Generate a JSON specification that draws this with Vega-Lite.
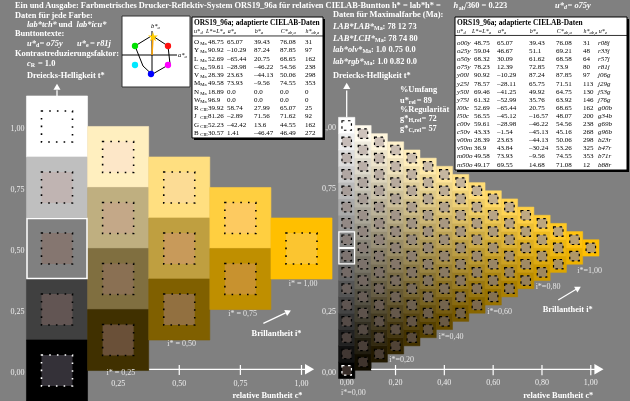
{
"$schema":"https://vega.github.io/schema/vega-lite/v6.json",
"width":630,"height":401,"padding":0,"autosize":"none",
"background":"#808080",
"config":{"view":{"stroke":null},"axis":{"disable":true},"text":{"font":"Liberation Serif","fontSize":8.4,"fontWeight":"bold","color":"#ffffff","align":"left","baseline":"middle"}},
"datasets":{
"coarse":[
{"c":0,"t":1,"rgb":"#ffffff","out":"#ffffff"},
{"c":0,"t":0.75,"rgb":"#bfbfbf","out":"#c0b4b2"},
{"c":0,"t":0.5,"rgb":"#808080","out":"#857670"},
{"c":0,"t":0.25,"rgb":"#404040","out":"#625553"},
{"c":0,"t":0,"rgb":"#000000","out":"#343138"},
{"c":0.25,"t":0.875,"rgb":"#ffefbf","out":"#fde7c8"},
{"c":0.25,"t":0.625,"rgb":"#bfaf80","out":"#c4a888"},
{"c":0.25,"t":0.375,"rgb":"#806f40","out":"#8a7053"},
{"c":0.25,"t":0.125,"rgb":"#403000","out":"#6a5038"},
{"c":0.5,"t":0.75,"rgb":"#ffdf80","out":"#fcdc95"},
{"c":0.5,"t":0.5,"rgb":"#bf9f40","out":"#c89a5a"},
{"c":0.5,"t":0.25,"rgb":"#806000","out":"#927040"},
{"c":0.75,"t":0.625,"rgb":"#ffcf40","out":"#fdca60"},
{"c":0.75,"t":0.375,"rgb":"#bf8f00","out":"#c8922f"},
{"c":1,"t":0.5,"rgb":"#ffbf00","out":"#fbc530"}
],
"fine":[
{"c":0,"t":0,"rgb":"#000000"},{"c":0,"t":2,"rgb":"#111111"},{"c":0,"t":4,"rgb":"#222222"},{"c":0,"t":6,"rgb":"#333333"},{"c":0,"t":8,"rgb":"#444444"},{"c":0,"t":10,"rgb":"#555555"},{"c":0,"t":12,"rgb":"#666666"},{"c":0,"t":14,"rgb":"#777777"},{"c":0,"t":16,"rgb":"#888888"},{"c":0,"t":18,"rgb":"#999999"},{"c":0,"t":20,"rgb":"#aaaaaa"},{"c":0,"t":22,"rgb":"#bbbbbb"},{"c":0,"t":24,"rgb":"#cccccc"},{"c":0,"t":26,"rgb":"#dddddd"},{"c":0,"t":28,"rgb":"#eeeeee"},{"c":0,"t":30,"rgb":"#ffffff"},
{"c":1,"t":1,"rgb":"#110d00"},{"c":1,"t":3,"rgb":"#221e11"},{"c":1,"t":5,"rgb":"#332f22"},{"c":1,"t":7,"rgb":"#444033"},{"c":1,"t":9,"rgb":"#555144"},{"c":1,"t":11,"rgb":"#666255"},{"c":1,"t":13,"rgb":"#777366"},{"c":1,"t":15,"rgb":"#888477"},{"c":1,"t":17,"rgb":"#999588"},{"c":1,"t":19,"rgb":"#aaa699"},{"c":1,"t":21,"rgb":"#bbb7aa"},{"c":1,"t":23,"rgb":"#ccc8bb"},{"c":1,"t":25,"rgb":"#ddd9cc"},{"c":1,"t":27,"rgb":"#eeeadd"},{"c":1,"t":29,"rgb":"#fffbee"},
{"c":2,"t":2,"rgb":"#221900"},{"c":2,"t":4,"rgb":"#332a11"},{"c":2,"t":6,"rgb":"#443b22"},{"c":2,"t":8,"rgb":"#554c33"},{"c":2,"t":10,"rgb":"#665d44"},{"c":2,"t":12,"rgb":"#776e55"},{"c":2,"t":14,"rgb":"#887f66"},{"c":2,"t":16,"rgb":"#999077"},{"c":2,"t":18,"rgb":"#aaa188"},{"c":2,"t":20,"rgb":"#bbb299"},{"c":2,"t":22,"rgb":"#ccc3aa"},{"c":2,"t":24,"rgb":"#ddd4bb"},{"c":2,"t":26,"rgb":"#eee5cc"},{"c":2,"t":28,"rgb":"#fff6dd"},
{"c":3,"t":3,"rgb":"#332600"},{"c":3,"t":5,"rgb":"#443711"},{"c":3,"t":7,"rgb":"#554822"},{"c":3,"t":9,"rgb":"#665933"},{"c":3,"t":11,"rgb":"#776a44"},{"c":3,"t":13,"rgb":"#887b55"},{"c":3,"t":15,"rgb":"#998c66"},{"c":3,"t":17,"rgb":"#aa9d77"},{"c":3,"t":19,"rgb":"#bbae88"},{"c":3,"t":21,"rgb":"#ccbf99"},{"c":3,"t":23,"rgb":"#ddd0aa"},{"c":3,"t":25,"rgb":"#eee1bb"},{"c":3,"t":27,"rgb":"#fff2cc"},
{"c":4,"t":4,"rgb":"#443300"},{"c":4,"t":6,"rgb":"#554411"},{"c":4,"t":8,"rgb":"#665522"},{"c":4,"t":10,"rgb":"#776633"},{"c":4,"t":12,"rgb":"#887744"},{"c":4,"t":14,"rgb":"#998855"},{"c":4,"t":16,"rgb":"#aa9966"},{"c":4,"t":18,"rgb":"#bbaa77"},{"c":4,"t":20,"rgb":"#ccbb88"},{"c":4,"t":22,"rgb":"#ddcc99"},{"c":4,"t":24,"rgb":"#eeddaa"},{"c":4,"t":26,"rgb":"#ffeebb"},
{"c":5,"t":5,"rgb":"#554000"},{"c":5,"t":7,"rgb":"#665111"},{"c":5,"t":9,"rgb":"#776222"},{"c":5,"t":11,"rgb":"#887333"},{"c":5,"t":13,"rgb":"#998444"},{"c":5,"t":15,"rgb":"#aa9555"},{"c":5,"t":17,"rgb":"#bba666"},{"c":5,"t":19,"rgb":"#ccb777"},{"c":5,"t":21,"rgb":"#ddc888"},{"c":5,"t":23,"rgb":"#eed999"},{"c":5,"t":25,"rgb":"#ffeaaa"},
{"c":6,"t":6,"rgb":"#664c00"},{"c":6,"t":8,"rgb":"#775d11"},{"c":6,"t":10,"rgb":"#886e22"},{"c":6,"t":12,"rgb":"#997f33"},{"c":6,"t":14,"rgb":"#aa9044"},{"c":6,"t":16,"rgb":"#bba155"},{"c":6,"t":18,"rgb":"#ccb266"},{"c":6,"t":20,"rgb":"#ddc377"},{"c":6,"t":22,"rgb":"#eed488"},{"c":6,"t":24,"rgb":"#ffe599"},
{"c":7,"t":7,"rgb":"#775900"},{"c":7,"t":9,"rgb":"#886a11"},{"c":7,"t":11,"rgb":"#997b22"},{"c":7,"t":13,"rgb":"#aa8c33"},{"c":7,"t":15,"rgb":"#bb9d44"},{"c":7,"t":17,"rgb":"#ccae55"},{"c":7,"t":19,"rgb":"#ddbf66"},{"c":7,"t":21,"rgb":"#eed077"},{"c":7,"t":23,"rgb":"#ffe188"},
{"c":8,"t":8,"rgb":"#886600"},{"c":8,"t":10,"rgb":"#997711"},{"c":8,"t":12,"rgb":"#aa8822"},{"c":8,"t":14,"rgb":"#bb9933"},{"c":8,"t":16,"rgb":"#ccaa44"},{"c":8,"t":18,"rgb":"#ddbb55"},{"c":8,"t":20,"rgb":"#eecc66"},{"c":8,"t":22,"rgb":"#ffdd77"},
{"c":9,"t":9,"rgb":"#997300"},{"c":9,"t":11,"rgb":"#aa8411"},{"c":9,"t":13,"rgb":"#bb9522"},{"c":9,"t":15,"rgb":"#cca633"},{"c":9,"t":17,"rgb":"#ddb744"},{"c":9,"t":19,"rgb":"#eec855"},{"c":9,"t":21,"rgb":"#ffd966"},
{"c":10,"t":10,"rgb":"#aa7f00"},{"c":10,"t":12,"rgb":"#bb9011"},{"c":10,"t":14,"rgb":"#cca122"},{"c":10,"t":16,"rgb":"#ddb233"},{"c":10,"t":18,"rgb":"#eec344"},{"c":10,"t":20,"rgb":"#ffd455"},
{"c":11,"t":11,"rgb":"#bb8c00"},{"c":11,"t":13,"rgb":"#cc9d11"},{"c":11,"t":15,"rgb":"#ddae22"},{"c":11,"t":17,"rgb":"#eebf33"},{"c":11,"t":19,"rgb":"#ffd044"},
{"c":12,"t":12,"rgb":"#cc9900"},{"c":12,"t":14,"rgb":"#ddaa11"},{"c":12,"t":16,"rgb":"#eebb22"},{"c":12,"t":18,"rgb":"#ffcc33"},
{"c":13,"t":13,"rgb":"#dda600"},{"c":13,"t":15,"rgb":"#eeb711"},{"c":13,"t":17,"rgb":"#ffc822"},
{"c":14,"t":14,"rgb":"#eeb200"},{"c":14,"t":16,"rgb":"#ffc311"},
{"c":15,"t":15,"rgb":"#ffbf00"}
],
"tab1":[
{"n":"O","s":"Ma","L":"48.75","a":"65.07","b":"39.43","C":"76.08","h":"31"},
{"n":"Y","s":"Ma","L":"90.92","a":"–10.29","b":"87.24","C":"87.85","h":"97"},
{"n":"L","s":"Ma","L":"52.69","a":"–65.44","b":"20.75","C":"68.65","h":"162"},
{"n":"C","s":"Ma","L":"59.61","a":"–28.98","b":"–46.22","C":"54.56","h":"238"},
{"n":"V","s":"Ma","L":"28.39","a":"23.63","b":"–44.13","C":"50.06","h":"298"},
{"n":"M","s":"Ma","L":"49.58","a":"73.93","b":"–9.56","C":"74.55","h":"353"},
{"n":"N","s":"Ma","L":"18.89","a":"0.0","b":"0.0","C":"0.0","h":"0"},
{"n":"W","s":"Ma","L":"96.9","a":"0.0","b":"0.0","C":"0.0","h":"0"},
{"n":"R","s":"CIE","L":"39.92","a":"58.74","b":"27.99","C":"65.07","h":"25"},
{"n":"J","s":"CIE","L":"81.26","a":"–2.89","b":"71.56","C":"71.62","h":"92"},
{"n":"G","s":"CIE","L":"52.23","a":"–42.42","b":"13.6","C":"44.55","h":"162"},
{"n":"B","s":"CIE","L":"30.57","a":"1.41","b":"–46.47","C":"46.49","h":"272"}
],
"tab2":[
{"n":"o00y","L":"48.75","a":"65.07","b":"39.43","C":"76.08","h":"31","e":"r08j"},
{"n":"o25y","L":"59.04","a":"46.67","b":"51.1","C":"69.21","h":"48","e":"r33j"},
{"n":"o50y","L":"68.32","a":"30.09","b":"61.62","C":"68.58","h":"64","e":"r57j"},
{"n":"o75y","L":"78.23","a":"12.39","b":"72.85","C":"73.9","h":"80","e":"r81j"},
{"n":"y00l","L":"90.92","a":"–10.29","b":"87.24","C":"87.85","h":"97","e":"j06g"},
{"n":"y25l","L":"78.57","a":"–28.11","b":"65.75","C":"71.51","h":"113","e":"j29g"},
{"n":"y50l","L":"69.46","a":"–41.25","b":"49.92","C":"64.75","h":"130","e":"j53g"},
{"n":"y75l","L":"61.32","a":"–52.99","b":"35.76","C":"63.92","h":"146","e":"j76g"},
{"n":"l00c","L":"52.69","a":"–65.44","b":"20.75","C":"68.65","h":"162","e":"g00b"},
{"n":"l50c","L":"56.55","a":"–45.12","b":"–16.57","C":"48.07","h":"200","e":"g34b"},
{"n":"c00v","L":"59.61","a":"–28.98","b":"–46.22","C":"54.56","h":"238","e":"g69b"},
{"n":"c50v","L":"43.33","a":"–1.54","b":"–45.13","C":"45.16","h":"268","e":"g96b"},
{"n":"v00m","L":"28.39","a":"23.63","b":"–44.13","C":"50.06","h":"298","e":"b23r"},
{"n":"v50m","L":"36.9","a":"43.84","b":"–30.24","C":"53.26","h":"325","e":"b47r"},
{"n":"m00o","L":"49.58","a":"73.93","b":"–9.56","C":"74.55","h":"353","e":"b71r"},
{"n":"m50o","L":"49.17","a":"69.55","b":"14.68","C":"71.08","h":"12","e":"b88r"}
]
},
"resolve":{"scale":{"x":"independent","y":"independent"}},
"layer":[
{
"data":{"name":"fine"},
"layer":[
{"mark":{"type":"square","size":268,"opacity":1,"strokeWidth":0.5},"encoding":{"x":{"field":"c","type":"quantitative","scale":{"domain":[0,15],"range":[346.7,590.8],"nice":false,"zero":false},"axis":null},"y":{"field":"t","type":"quantitative","scale":{"domain":[0,30],"range":[370.3,125.5],"nice":false,"zero":false},"axis":null},"fill":{"field":"rgb","type":"nominal","scale":null},"stroke":{"field":"rgb","type":"nominal","scale":null}}},
{"mark":{"type":"square","size":90,"opacity":0.6,"fill":"#808080","blend":"saturation"},"encoding":{"x":{"field":"c","type":"quantitative"},"y":{"field":"t","type":"quantitative"}}},
{"transform":[{"filter":"datum.t < 30"}],"mark":{"type":"square","size":90,"opacity":0.4,"fill":"#8a7066"},"encoding":{"x":{"field":"c","type":"quantitative"},"y":{"field":"t","type":"quantitative"}}},
{"mark":{"type":"square","size":90,"opacity":1,"filled":false,"strokeWidth":1.2,"strokeDash":[2.5,3.5]},"encoding":{"x":{"field":"c","type":"quantitative"},"y":{"field":"t","type":"quantitative"},"stroke":{"condition":{"test":"datum.t == 0","value":"#ffffff"},"value":"#000000"}}},
{"transform":[{"filter":"datum.c == 0 && (datum.t == 14 || datum.t == 16)"}],"mark":{"type":"square","size":245,"filled":false,"opacity":1,"stroke":"#ffffff","strokeWidth":1.3},"encoding":{"x":{"field":"c","type":"quantitative"},"y":{"field":"t","type":"quantitative"}}},
{"data":{"values":[{}]},"mark":{"type":"rule","color":"#ffffff","strokeWidth":1.2},"encoding":{"x":{"datum":1.5},"x2":{"datum":15.3},"y":{"datum":0.12}}},
{"data":{"values":[{}]},"mark":{"type":"point","shape":"triangle-right","filled":true,"size":110,"opacity":1,"color":"#ffffff"},"encoding":{"x":{"datum":15.5},"y":{"datum":0.12}}},
{"data":{"values":[{"c":3},{"c":6},{"c":9},{"c":12},{"c":15}]},"mark":{"type":"rule","color":"#ffffff","strokeWidth":1.2},"encoding":{"x":{"field":"c","type":"quantitative"},"y":{"datum":0.65},"y2":{"datum":-0.6}}},
{"data":{"values":[{"c":0,"lab":"0,00"},{"c":3,"lab":"0,20"},{"c":6,"lab":"0,40"},{"c":9,"lab":"0,60"},{"c":12,"lab":"0,80"},{"c":15,"lab":"1,00"}]},"mark":{"type":"text","fontSize":8,"fontWeight":"normal","color":"#ececec","align":"center"},"encoding":{"x":{"field":"c","type":"quantitative"},"y":{"datum":-1.56},"text":{"field":"lab"}}},
{"data":{"values":[{"t":30,"lab":"1,00"},{"t":22.5,"lab":"0,75"},{"t":7.5,"lab":"0,25"},{"t":0,"lab":"0,00"}]},"mark":{"type":"text","fontSize":8,"fontWeight":"normal","color":"#ececec","align":"center","dy":2.5},"encoding":{"x":{"datum":-1.09},"y":{"field":"t","type":"quantitative"},"text":{"field":"lab"}}},
{"data":{"values":[{}]},"mark":{"type":"text","text":"i*=0,00","fontSize":8,"fontWeight":"normal","color":"#e4e4e4","align":"center"},"encoding":{"x":{"datum":0.41},"y":{"datum":-2.75}}},
{"data":{"values":[{}]},"mark":{"type":"text","text":"i*=0,20","fontSize":8,"fontWeight":"normal","color":"#e4e4e4","align":"center"},"encoding":{"x":{"datum":3.38},"y":{"datum":1.26}}},
{"data":{"values":[{}]},"mark":{"type":"text","text":"i*=0,40","fontSize":8,"fontWeight":"normal","color":"#e4e4e4","align":"center"},"encoding":{"x":{"datum":6.41},"y":{"datum":4.08}}},
{"data":{"values":[{}]},"mark":{"type":"text","text":"i*=0,60","fontSize":8,"fontWeight":"normal","color":"#e4e4e4","align":"center"},"encoding":{"x":{"datum":9.4},"y":{"datum":7.18}}},
{"data":{"values":[{}]},"mark":{"type":"text","text":"i*=0,80","fontSize":8,"fontWeight":"normal","color":"#e4e4e4","align":"center"},"encoding":{"x":{"datum":12.37},"y":{"datum":10.17}}},
{"data":{"values":[{}]},"mark":{"type":"text","text":"i*=1,00","fontSize":8,"fontWeight":"normal","color":"#e4e4e4","align":"center"},"encoding":{"x":{"datum":14.93},"y":{"datum":12.21}}},
{"data":{"values":[{}]},"mark":{"type":"text","text":"Brillantheit i*","align":"center"},"encoding":{"x":{"datum":13.58},"y":{"datum":7.47}}},
{"data":{"values":[{}]},"mark":{"type":"rule","color":"#ffffff","strokeWidth":1.2},"encoding":{"x":{"datum":13.0},"y":{"datum":8.62},"x2":{"datum":14.1},"y2":{"datum":9.92}}},
{"data":{"values":[{}]},"mark":{"type":"point","shape":"triangle-right","filled":true,"size":45,"opacity":1,"color":"#ffffff","angle":-30},"encoding":{"x":{"datum":14.23},"y":{"datum":10.06}}},
{"data":{"values":[{}]},"mark":{"type":"text","text":"relative Buntheit c*","align":"center"},"encoding":{"x":{"datum":13.0},"y":{"datum":-3.03}}},
{"data":{"values":[{}]},"mark":{"type":"rule","color":"#ffffff","strokeWidth":1.3},"encoding":{"x":{"datum":0},"y":{"datum":31},"y2":{"datum":34.3}}},
{"data":{"values":[{}]},"mark":{"type":"point","shape":"triangle-up","filled":true,"size":50,"opacity":1,"color":"#ffffff"},"encoding":{"x":{"datum":0},"y":{"datum":34.85}}},
{"data":{"values":[{}]},"mark":{"type":"text","text":"Daten für Maximalfarbe (Ma):"},"encoding":{"x":{"datum":-0.842},"y":{"datum":43.63}}},
{"data":{"values":[{}]},"mark":{"type":"text","text":"LAB*LAB*","fontStyle":"italic"},"encoding":{"x":{"datum":-0.842},"y":{"datum":42.19}}},
{"data":{"values":[{}]},"mark":{"type":"text","text":"Ma","fontSize":6},"encoding":{"x":{"datum":1.68},"y":{"datum":41.94}}},
{"data":{"values":[{}]},"mark":{"type":"text","text":": 78  12  73"},"encoding":{"x":{"datum":2.2},"y":{"datum":42.19}}},
{"data":{"values":[{}]},"mark":{"type":"text","text":"LAB*LCH*","fontStyle":"italic"},"encoding":{"x":{"datum":-0.842},"y":{"datum":40.76}}},
{"data":{"values":[{}]},"mark":{"type":"text","text":"Ma","fontSize":6},"encoding":{"x":{"datum":1.74},"y":{"datum":40.51}}},
{"data":{"values":[{}]},"mark":{"type":"text","text":": 78  74  80"},"encoding":{"x":{"datum":2.26},"y":{"datum":40.76}}},
{"data":{"values":[{}]},"mark":{"type":"text","text":"lab*olv*","fontStyle":"italic"},"encoding":{"x":{"datum":-0.842},"y":{"datum":39.34}}},
{"data":{"values":[{}]},"mark":{"type":"text","text":"Ma","fontSize":6},"encoding":{"x":{"datum":0.965},"y":{"datum":39.09}}},
{"data":{"values":[{}]},"mark":{"type":"text","text":": 1.0  0.75  0.0"},"encoding":{"x":{"datum":1.49},"y":{"datum":39.34}}},
{"data":{"values":[{}]},"mark":{"type":"text","text":"lab*rgb*","fontStyle":"italic"},"encoding":{"x":{"datum":-0.842},"y":{"datum":37.9}}},
{"data":{"values":[{}]},"mark":{"type":"text","text":"Ma","fontSize":6},"encoding":{"x":{"datum":1.05},"y":{"datum":37.65}}},
{"data":{"values":[{}]},"mark":{"type":"text","text":": 1.0  0.82  0.0"},"encoding":{"x":{"datum":1.57},"y":{"datum":37.9}}},
{"data":{"values":[{}]},"mark":{"type":"text","text":"Dreiecks-Helligkeit t*"},"encoding":{"x":{"datum":-0.842},"y":{"datum":36.19}}},
{"data":{"values":[{}]},"mark":{"type":"text","text":"%Umfang"},"encoding":{"x":{"datum":3.275},"y":{"datum":34.44}}},
{"data":{"values":[{}]},"mark":{"type":"text","text":"u*"},"encoding":{"x":{"datum":3.275},"y":{"datum":33.12}}},
{"data":{"values":[{}]},"mark":{"type":"text","text":"rel","fontSize":6},"encoding":{"x":{"datum":3.82},"y":{"datum":32.87}}},
{"data":{"values":[{}]},"mark":{"type":"text","text":"= 89"},"encoding":{"x":{"datum":4.3},"y":{"datum":33.12}}},
{"data":{"values":[{}]},"mark":{"type":"text","text":"%Regularität"},"encoding":{"x":{"datum":3.275},"y":{"datum":31.99}}},
{"data":{"values":[{}]},"mark":{"type":"text","text":"g*"},"encoding":{"x":{"datum":3.275},"y":{"datum":30.88}}},
{"data":{"values":[{}]},"mark":{"type":"text","text":"H,rel","fontSize":6},"encoding":{"x":{"datum":3.79},"y":{"datum":30.63}}},
{"data":{"values":[{}]},"mark":{"type":"text","text":"= 72"},"encoding":{"x":{"datum":4.6},"y":{"datum":30.88}}},
{"data":{"values":[{}]},"mark":{"type":"text","text":"g*"},"encoding":{"x":{"datum":3.275},"y":{"datum":29.66}}},
{"data":{"values":[{}]},"mark":{"type":"text","text":"C,rel","fontSize":6},"encoding":{"x":{"datum":3.79},"y":{"datum":29.41}}},
{"data":{"values":[{}]},"mark":{"type":"text","text":"= 57"},"encoding":{"x":{"datum":4.6},"y":{"datum":29.66}}},
{"data":{"values":[{}]},"mark":{"type":"text","text":"u*","fontStyle":"italic"},"encoding":{"x":{"datum":12.8},"y":{"datum":44.77}}},
{"data":{"values":[{}]},"mark":{"type":"text","text":"d","fontSize":6,"fontStyle":"italic"},"encoding":{"x":{"datum":13.36},"y":{"datum":44.52}}},
{"data":{"values":[{}]},"mark":{"type":"text","text":"= o75y","fontStyle":"italic"},"encoding":{"x":{"datum":13.57},"y":{"datum":44.77}}}
]
},
{
"data":{"name":"coarse"},
"layer":[
{"mark":{"type":"square","size":3730,"opacity":1,"strokeWidth":0.6},"encoding":{"x":{"field":"c","type":"quantitative","scale":{"domain":[0,1],"range":[57,301.5],"nice":false,"zero":false},"axis":null},"y":{"field":"t","type":"quantitative","scale":{"domain":[0,1],"range":[370.5,126.5],"nice":false,"zero":false},"axis":null},"fill":{"field":"rgb","type":"nominal","scale":null},"stroke":{"field":"rgb","type":"nominal","scale":null}}},
{"mark":{"type":"square","size":961,"opacity":1,"strokeWidth":1.6,"strokeDash":[1.6,6.1]},"encoding":{"x":{"field":"c","type":"quantitative"},"y":{"field":"t","type":"quantitative"},"fill":{"field":"out","type":"nominal","scale":null},"stroke":{"condition":{"test":"datum.c == 0 && datum.t == 0","value":"#ffffff"},"value":"#000000"}}},
{"transform":[{"filter":"datum.c == 0 && datum.t == 0.5"}],"mark":{"type":"square","size":3600,"filled":false,"opacity":1,"stroke":"#ffffff","strokeWidth":1.5},"encoding":{"x":{"field":"c","type":"quantitative"},"y":{"field":"t","type":"quantitative"}}},
{"data":{"values":[{}]},"mark":{"type":"text","text":"Ein und Ausgabe: Farbmetrisches Drucker-Reflektiv-System ORS19_96a für relativen CIELAB-Buntton h* = lab*h* ="},"encoding":{"x":{"datum":-0.1718},"y":{"datum":1.498}}},
{"data":{"values":[{}]},"mark":{"type":"text","text":"h","fontStyle":"italic"},"encoding":{"x":{"datum":1.622},"y":{"datum":1.498}}},
{"data":{"values":[{}]},"mark":{"type":"text","text":"ab","fontSize":6},"encoding":{"x":{"datum":1.643},"y":{"datum":1.487}}},
{"data":{"values":[{}]},"mark":{"type":"text","text":"/360 = 0.223"},"encoding":{"x":{"datum":1.667},"y":{"datum":1.498}}},
{"data":{"values":[{}]},"mark":{"type":"text","text":"Daten für jede Farbe:"},"encoding":{"x":{"datum":-0.172},"y":{"datum":1.457}}},
{"data":{"values":[{}]},"mark":{"type":"text","text":"lab*tch*","fontStyle":"italic"},"encoding":{"x":{"datum":-0.1227},"y":{"datum":1.42}}},
{"data":{"values":[{}]},"mark":{"type":"text","text":"und"},"encoding":{"x":{"datum":0.006},"y":{"datum":1.42}}},
{"data":{"values":[{}]},"mark":{"type":"text","text":"lab*icu*","fontStyle":"italic"},"encoding":{"x":{"datum":0.08},"y":{"datum":1.42}}},
{"data":{"values":[{}]},"mark":{"type":"text","text":"Bunttontexte:"},"encoding":{"x":{"datum":-0.172},"y":{"datum":1.383}}},
{"data":{"values":[{}]},"mark":{"type":"text","text":"u*","fontStyle":"italic"},"encoding":{"x":{"datum":-0.1227},"y":{"datum":1.342}}},
{"data":{"values":[{}]},"mark":{"type":"text","text":"d","fontSize":6},"encoding":{"x":{"datum":-0.0863},"y":{"datum":1.334}}},
{"data":{"values":[{}]},"mark":{"type":"text","text":"= o75y","fontStyle":"italic"},"encoding":{"x":{"datum":-0.0716},"y":{"datum":1.342}}},
{"data":{"values":[{}]},"mark":{"type":"text","text":"u*","fontStyle":"italic"},"encoding":{"x":{"datum":0.0818},"y":{"datum":1.342}}},
{"data":{"values":[{}]},"mark":{"type":"text","text":"e","fontSize":6},"encoding":{"x":{"datum":0.1186},"y":{"datum":1.334}}},
{"data":{"values":[{}]},"mark":{"type":"text","text":"= r81j","fontStyle":"italic"},"encoding":{"x":{"datum":0.135},"y":{"datum":1.342}}},
{"data":{"values":[{}]},"mark":{"type":"text","text":"Kontrastreduzierungsfaktor:"},"encoding":{"x":{"datum":-0.172},"y":{"datum":1.301}}},
{"data":{"values":[{}]},"mark":{"type":"text","text":"c","fontStyle":"italic"},"encoding":{"x":{"datum":-0.1227},"y":{"datum":1.26}}},
{"data":{"values":[{}]},"mark":{"type":"text","text":"R","fontSize":6},"encoding":{"x":{"datum":-0.1076},"y":{"datum":1.252}}},
{"data":{"values":[{}]},"mark":{"type":"text","text":"= 1.0"},"encoding":{"x":{"datum":-0.0777},"y":{"datum":1.26}}},
{"data":{"values":[{}]},"mark":{"type":"text","text":"Dreiecks-Helligkeit t*"},"encoding":{"x":{"datum":-0.1227},"y":{"datum":1.211}}},
{"data":{"values":[{}]},"mark":{"type":"rule","color":"#ffffff","strokeWidth":1.3},"encoding":{"x":{"datum":0},"y":{"datum":1.125},"y2":{"datum":1.149}}},
{"data":{"values":[{}]},"mark":{"type":"point","shape":"triangle-up","filled":true,"size":50,"opacity":1,"color":"#ffffff"},"encoding":{"x":{"datum":0},"y":{"datum":1.163}}},
{"data":{"values":[{"t":1,"lab":"1,00"},{"t":0.75,"lab":"0,75"},{"t":0.5,"lab":"0,50"},{"t":0.25,"lab":"0,25"},{"t":0,"lab":"0,00"}]},"mark":{"type":"text","fontSize":8,"fontWeight":"normal","color":"#ececec","align":"center","dy":2},"encoding":{"x":{"datum":-0.1616},"y":{"field":"t","type":"quantitative"},"text":{"field":"lab"}}},
{"data":{"values":[{}]},"mark":{"type":"rule","color":"#ffffff","strokeWidth":1.2},"encoding":{"x":{"datum":0.377},"x2":{"datum":1.02},"y":{"datum":0.005}}},
{"data":{"values":[{}]},"mark":{"type":"point","shape":"triangle-right","filled":true,"size":110,"opacity":1,"color":"#ffffff"},"encoding":{"x":{"datum":1.033},"y":{"datum":0.005}}},
{"data":{"values":[{"c":0.5},{"c":0.75},{"c":1}]},"mark":{"type":"rule","color":"#ffffff","strokeWidth":1.2},"encoding":{"x":{"field":"c","type":"quantitative"},"y":{"datum":0.0225},"y2":{"datum":-0.018}}},
{"data":{"values":[{"c":0.25,"lab":"0,25"},{"c":0.5,"lab":"0,50"},{"c":0.75,"lab":"0,75"},{"c":1,"lab":"1,00"}]},"mark":{"type":"text","fontSize":8,"fontWeight":"normal","color":"#ececec","align":"center"},"encoding":{"x":{"field":"c","type":"quantitative"},"y":{"datum":-0.056},"text":{"field":"lab"}}},
{"data":{"values":[{}]},"mark":{"type":"text","text":"i* = 0,25","fontSize":8,"fontWeight":"normal","color":"#e4e4e4","align":"center"},"encoding":{"x":{"datum":0.261},"y":{"datum":-0.01}}},
{"data":{"values":[{}]},"mark":{"type":"text","text":"i* = 0,50","fontSize":8,"fontWeight":"normal","color":"#e4e4e4","align":"center"},"encoding":{"x":{"datum":0.51},"y":{"datum":0.107}}},
{"data":{"values":[{}]},"mark":{"type":"text","text":"i* = 0,75","fontSize":8,"fontWeight":"normal","color":"#e4e4e4","align":"center"},"encoding":{"x":{"datum":0.759},"y":{"datum":0.23}}},
{"data":{"values":[{}]},"mark":{"type":"text","text":"i* = 1,00","fontSize":8,"fontWeight":"normal","color":"#e4e4e4","align":"center"},"encoding":{"x":{"datum":1.007},"y":{"datum":0.354}}},
{"data":{"values":[{}]},"mark":{"type":"text","text":"Brillantheit i*","align":"center"},"encoding":{"x":{"datum":0.898},"y":{"datum":0.155}}},
{"data":{"values":[{}]},"mark":{"type":"rule","color":"#ffffff","strokeWidth":1.2},"encoding":{"x":{"datum":0.844},"y":{"datum":0.193},"x2":{"datum":0.935},"y2":{"datum":0.236}}},
{"data":{"values":[{}]},"mark":{"type":"point","shape":"triangle-right","filled":true,"size":45,"opacity":1,"color":"#ffffff","angle":-25},"encoding":{"x":{"datum":0.946},"y":{"datum":0.241}}},
{"data":{"values":[{}]},"mark":{"type":"text","text":"relative Buntheit c*","align":"center"},"encoding":{"x":{"datum":0.861},"y":{"datum":-0.1}}}
]
},
{
"data":{"name":"tab1"},
"transform":[{"window":[{"op":"row_number","as":"r"}]}],
"layer":[
{"data":{"values":[{}]},"mark":{"type":"rect","fill":"#000000"},"encoding":{"x":{"datum":0,"scale":{"domain":[-1,0,1,2,3,4,5,6],"range":[192,194,208,227,254,280,305,323],"nice":false,"zero":false},"axis":null},"x2":{"datum":6.11},"y":{"datum":-1.78,"scale":{"domain":[1,12],"range":[42,133],"nice":false,"zero":false},"axis":null},"y2":{"datum":12.85}}},
{"data":{"values":[{}]},"mark":{"type":"rect","fill":"#ffffff","stroke":"#000000","strokeWidth":1},"encoding":{"x":{"datum":-1},"x2":{"datum":6},"y":{"datum":-2.02},"y2":{"datum":12.6}}},
{"data":{"values":[{}]},"mark":{"type":"text","text":"ORS19_96a; adaptierte CIELAB-Daten","fontSize":7.4,"color":"#000000"},"encoding":{"x":{"datum":0},"y":{"datum":-1.3}}},
{"data":{"values":[{}]},"mark":{"type":"rule","color":"#000000","strokeWidth":0.8},"encoding":{"x":{"datum":-1},"x2":{"datum":6},"y":{"datum":0.27}}},
{"data":{"values":[{}]},"mark":{"type":"text","text":"u*","fontSize":6,"fontWeight":"normal","fontStyle":"italic","color":"#000000"},"encoding":{"x":{"datum":0},"y":{"datum":-0.27}}},
{"data":{"values":[{}]},"mark":{"type":"text","text":"d","fontSize":4.5,"fontWeight":"normal","fontStyle":"italic","color":"#000000"},"encoding":{"x":{"datum":0.46},"y":{"datum":-0.05}}},
{"data":{"values":[{}]},"mark":{"type":"text","text":"L*=L*","fontSize":6,"fontWeight":"normal","fontStyle":"italic","color":"#000000"},"encoding":{"x":{"datum":0.85},"y":{"datum":-0.27}}},
{"data":{"values":[{}]},"mark":{"type":"text","text":"a","fontSize":4.5,"fontWeight":"normal","fontStyle":"italic","color":"#000000"},"encoding":{"x":{"datum":1.77},"y":{"datum":-0.05}}},
{"data":{"values":[{}]},"mark":{"type":"text","text":"a*","fontSize":6,"fontWeight":"normal","fontStyle":"italic","color":"#000000"},"encoding":{"x":{"datum":2.03},"y":{"datum":-0.27}}},
{"data":{"values":[{}]},"mark":{"type":"text","text":"a","fontSize":4.5,"fontWeight":"normal","fontStyle":"italic","color":"#000000"},"encoding":{"x":{"datum":2.25},"y":{"datum":-0.05}}},
{"data":{"values":[{}]},"mark":{"type":"text","text":"b*","fontSize":6,"fontWeight":"normal","fontStyle":"italic","color":"#000000"},"encoding":{"x":{"datum":3.03},"y":{"datum":-0.27}}},
{"data":{"values":[{}]},"mark":{"type":"text","text":"a","fontSize":4.5,"fontWeight":"normal","fontStyle":"italic","color":"#000000"},"encoding":{"x":{"datum":3.26},"y":{"datum":-0.05}}},
{"data":{"values":[{}]},"mark":{"type":"text","text":"C*","fontSize":6,"fontWeight":"normal","fontStyle":"italic","color":"#000000"},"encoding":{"x":{"datum":4.03},"y":{"datum":-0.27}}},
{"data":{"values":[{}]},"mark":{"type":"text","text":"ab,a","fontSize":4.5,"fontWeight":"normal","fontStyle":"italic","color":"#000000"},"encoding":{"x":{"datum":4.31},"y":{"datum":-0.05}}},
{"data":{"values":[{}]},"mark":{"type":"text","text":"h*","fontSize":6,"fontWeight":"normal","fontStyle":"italic","color":"#000000"},"encoding":{"x":{"datum":5.03},"y":{"datum":-0.27}}},
{"data":{"values":[{}]},"mark":{"type":"text","text":"ab,a","fontSize":4.5,"fontWeight":"normal","fontStyle":"italic","color":"#000000"},"encoding":{"x":{"datum":5.36},"y":{"datum":-0.05}}},
{"mark":{"type":"text","fontSize":7,"fontWeight":"normal","color":"#000000"},"encoding":{"x":{"datum":0},"y":{"field":"r","type":"quantitative"},"text":{"field":"n"}}},
{"mark":{"type":"text","fontSize":4.8,"fontWeight":"normal","color":"#000000","dy":2},"encoding":{"x":{"datum":0.45},"y":{"field":"r","type":"quantitative"},"text":{"field":"s"}}},
{"mark":{"type":"text","fontSize":7,"fontWeight":"normal","color":"#000000"},"encoding":{"x":{"datum":1},"y":{"field":"r","type":"quantitative"},"text":{"field":"L"}}},
{"mark":{"type":"text","fontSize":7,"fontWeight":"normal","color":"#000000"},"encoding":{"x":{"datum":2},"y":{"field":"r","type":"quantitative"},"text":{"field":"a"}}},
{"mark":{"type":"text","fontSize":7,"fontWeight":"normal","color":"#000000"},"encoding":{"x":{"datum":3},"y":{"field":"r","type":"quantitative"},"text":{"field":"b"}}},
{"mark":{"type":"text","fontSize":7,"fontWeight":"normal","color":"#000000"},"encoding":{"x":{"datum":4},"y":{"field":"r","type":"quantitative"},"text":{"field":"C"}}},
{"mark":{"type":"text","fontSize":7,"fontWeight":"normal","color":"#000000"},"encoding":{"x":{"datum":5},"y":{"field":"r","type":"quantitative"},"text":{"field":"h"}}}
]
},
{
"data":{"name":"tab2"},
"transform":[{"window":[{"op":"row_number","as":"r"}]}],
"layer":[
{"data":{"values":[{}]},"mark":{"type":"rect","fill":"#000000"},"encoding":{"x":{"datum":0,"scale":{"domain":[-1,0,1,2,3,4,5,6,7],"range":[455,457,474,497,529,556,583,598,627],"nice":false,"zero":false},"axis":null},"x2":{"datum":7.07},"y":{"datum":-1.96,"scale":{"domain":[1,16],"range":[43,164.5],"nice":false,"zero":false},"axis":null},"y2":{"datum":16.93}}},
{"data":{"values":[{}]},"mark":{"type":"rect","fill":"#ffffff","stroke":"#000000","strokeWidth":1},"encoding":{"x":{"datum":-1},"x2":{"datum":7},"y":{"datum":-2.21},"y2":{"datum":16.68}}},
{"data":{"values":[{}]},"mark":{"type":"text","text":"ORS19_96a; adaptierte CIELAB-Daten","fontSize":7.4,"color":"#000000"},"encoding":{"x":{"datum":0},"y":{"datum":-1.53}}},
{"data":{"values":[{}]},"mark":{"type":"rule","color":"#000000","strokeWidth":0.8},"encoding":{"x":{"datum":-1},"x2":{"datum":7},"y":{"datum":0.07}}},
{"data":{"values":[{}]},"mark":{"type":"text","text":"u*","fontSize":6,"fontWeight":"normal","fontStyle":"italic","color":"#000000"},"encoding":{"x":{"datum":0},"y":{"datum":-0.48}}},
{"data":{"values":[{}]},"mark":{"type":"text","text":"d","fontSize":4.5,"fontWeight":"normal","fontStyle":"italic","color":"#000000"},"encoding":{"x":{"datum":0.38},"y":{"datum":-0.26}}},
{"data":{"values":[{}]},"mark":{"type":"text","text":"L*=L*","fontSize":6,"fontWeight":"normal","fontStyle":"italic","color":"#000000"},"encoding":{"x":{"datum":0.88},"y":{"datum":-0.48}}},
{"data":{"values":[{}]},"mark":{"type":"text","text":"a","fontSize":4.5,"fontWeight":"normal","fontStyle":"italic","color":"#000000"},"encoding":{"x":{"datum":1.64},"y":{"datum":-0.26}}},
{"data":{"values":[{}]},"mark":{"type":"text","text":"a*","fontSize":6,"fontWeight":"normal","fontStyle":"italic","color":"#000000"},"encoding":{"x":{"datum":2.03},"y":{"datum":-0.48}}},
{"data":{"values":[{}]},"mark":{"type":"text","text":"a","fontSize":4.5,"fontWeight":"normal","fontStyle":"italic","color":"#000000"},"encoding":{"x":{"datum":2.22},"y":{"datum":-0.26}}},
{"data":{"values":[{}]},"mark":{"type":"text","text":"b*","fontSize":6,"fontWeight":"normal","fontStyle":"italic","color":"#000000"},"encoding":{"x":{"datum":3.03},"y":{"datum":-0.48}}},
{"data":{"values":[{}]},"mark":{"type":"text","text":"a","fontSize":4.5,"fontWeight":"normal","fontStyle":"italic","color":"#000000"},"encoding":{"x":{"datum":3.25},"y":{"datum":-0.26}}},
{"data":{"values":[{}]},"mark":{"type":"text","text":"C*","fontSize":6,"fontWeight":"normal","fontStyle":"italic","color":"#000000"},"encoding":{"x":{"datum":4.03},"y":{"datum":-0.48}}},
{"data":{"values":[{}]},"mark":{"type":"text","text":"ab,a","fontSize":4.5,"fontWeight":"normal","fontStyle":"italic","color":"#000000"},"encoding":{"x":{"datum":4.29},"y":{"datum":-0.26}}},
{"data":{"values":[{}]},"mark":{"type":"text","text":"h*","fontSize":6,"fontWeight":"normal","fontStyle":"italic","color":"#000000"},"encoding":{"x":{"datum":5.03},"y":{"datum":-0.48}}},
{"data":{"values":[{}]},"mark":{"type":"text","text":"ab,a","fontSize":4.5,"fontWeight":"normal","fontStyle":"italic","color":"#000000"},"encoding":{"x":{"datum":5.43},"y":{"datum":-0.26}}},
{"data":{"values":[{}]},"mark":{"type":"text","text":"u*","fontSize":6,"fontWeight":"normal","fontStyle":"italic","color":"#000000"},"encoding":{"x":{"datum":6.03},"y":{"datum":-0.48}}},
{"data":{"values":[{}]},"mark":{"type":"text","text":"e","fontSize":4.5,"fontWeight":"normal","fontStyle":"italic","color":"#000000"},"encoding":{"x":{"datum":6.24},"y":{"datum":-0.26}}},
{"mark":{"type":"text","fontSize":7,"fontWeight":"normal","fontStyle":"italic","color":"#000000"},"encoding":{"x":{"datum":0},"y":{"field":"r","type":"quantitative"},"text":{"field":"n"}}},
{"mark":{"type":"text","fontSize":7,"fontWeight":"normal","color":"#000000"},"encoding":{"x":{"datum":1},"y":{"field":"r","type":"quantitative"},"text":{"field":"L"}}},
{"mark":{"type":"text","fontSize":7,"fontWeight":"normal","color":"#000000"},"encoding":{"x":{"datum":2},"y":{"field":"r","type":"quantitative"},"text":{"field":"a"}}},
{"mark":{"type":"text","fontSize":7,"fontWeight":"normal","color":"#000000"},"encoding":{"x":{"datum":3},"y":{"field":"r","type":"quantitative"},"text":{"field":"b"}}},
{"mark":{"type":"text","fontSize":7,"fontWeight":"normal","color":"#000000"},"encoding":{"x":{"datum":4},"y":{"field":"r","type":"quantitative"},"text":{"field":"C"}}},
{"mark":{"type":"text","fontSize":7,"fontWeight":"normal","color":"#000000"},"encoding":{"x":{"datum":5},"y":{"field":"r","type":"quantitative"},"text":{"field":"h"}}},
{"mark":{"type":"text","fontSize":7,"fontWeight":"normal","fontStyle":"italic","color":"#000000"},"encoding":{"x":{"datum":6},"y":{"field":"r","type":"quantitative"},"text":{"field":"e"}}}
]
},
{
"data":{"values":[{"a":-0.85,"b":0.45,"col":"#00e000"},{"a":0.8,"b":0.45,"col":"#ff1010"},{"a":0.8,"b":-0.5,"col":"#ff00ff"},{"a":-0.05,"b":-0.95,"col":"#0000ff"},{"a":-0.85,"b":-0.5,"col":"#00e8ff"}]},
"layer":[
{"data":{"values":[{}]},"mark":{"type":"rect","fill":"#ffffff","stroke":"#303030","strokeWidth":1},"encoding":{"x":{"datum":-1.5,"scale":{"domain":[-1,1],"range":[132,172],"nice":false,"zero":false},"axis":null},"x2":{"datum":1.9},"y":{"datum":1.95,"scale":{"domain":[-1,1],"range":[75,35],"nice":false,"zero":false},"axis":null},"y2":{"datum":-1.6}}},
{"data":{"values":[{}]},"mark":{"type":"rule","color":"#000000","strokeWidth":1},"encoding":{"x":{"datum":-1.5},"x2":{"datum":1.25},"y":{"datum":0}}},
{"data":{"values":[{}]},"mark":{"type":"rule","color":"#000000","strokeWidth":1},"encoding":{"x":{"datum":0},"y":{"datum":1.2},"y2":{"datum":-1.05}}},
{"data":{"values":[{"i":0,"a":0,"b":0.97},{"i":1,"a":0.8,"b":0.45},{"i":2,"a":0.9,"b":-0.45},{"i":3,"a":0,"b":-0.97},{"i":4,"a":-0.45,"b":-0.55},{"i":5,"a":-0.85,"b":0.45},{"i":6,"a":0,"b":0.97}]},"mark":{"type":"line","color":"#000000","strokeWidth":1},"encoding":{"x":{"field":"a","type":"quantitative"},"y":{"field":"b","type":"quantitative"},"order":{"field":"i","type":"quantitative"}}},
{"data":{"values":[{"i":0,"a":0,"b":0},{"i":1,"a":0.05,"b":0.9}]},"mark":{"type":"line","color":"#ffa500","strokeWidth":1.5},"encoding":{"x":{"field":"a","type":"quantitative"},"y":{"field":"b","type":"quantitative"},"order":{"field":"i","type":"quantitative"}}},
{"mark":{"type":"circle","size":40,"opacity":1},"encoding":{"x":{"field":"a","type":"quantitative"},"y":{"field":"b","type":"quantitative"},"fill":{"field":"col","type":"nominal","scale":null}}},
{"data":{"values":[{"a":0.05,"b":0.9}]},"mark":{"type":"point","shape":"M0,-1L0.22,-0.3L0.95,-0.3L0.36,0.12L0.59,0.81L0,0.38L-0.59,0.81L-0.36,0.12L-0.95,-0.3L-0.22,-0.3Z","filled":true,"size":110,"opacity":1,"color":"#ffcc00"},"encoding":{"x":{"field":"a","type":"quantitative"},"y":{"field":"b","type":"quantitative"}}},
{"data":{"values":[{}]},"mark":{"type":"text","text":"b*","fontSize":6.5,"fontWeight":"normal","fontStyle":"italic","color":"#000000"},"encoding":{"x":{"datum":-0.05},"y":{"datum":1.45}}},
{"data":{"values":[{}]},"mark":{"type":"text","text":"a","fontSize":4.5,"fontWeight":"normal","fontStyle":"italic","color":"#000000"},"encoding":{"x":{"datum":0.28},"y":{"datum":1.36}}},
{"data":{"values":[{}]},"mark":{"type":"text","text":"a*","fontSize":6.5,"fontWeight":"normal","fontStyle":"italic","color":"#000000"},"encoding":{"x":{"datum":1.3},"y":{"datum":0}}},
{"data":{"values":[{}]},"mark":{"type":"text","text":"a","fontSize":4.5,"fontWeight":"normal","fontStyle":"italic","color":"#000000"},"encoding":{"x":{"datum":1.62},"y":{"datum":-0.09}}}
]
}
]
}
